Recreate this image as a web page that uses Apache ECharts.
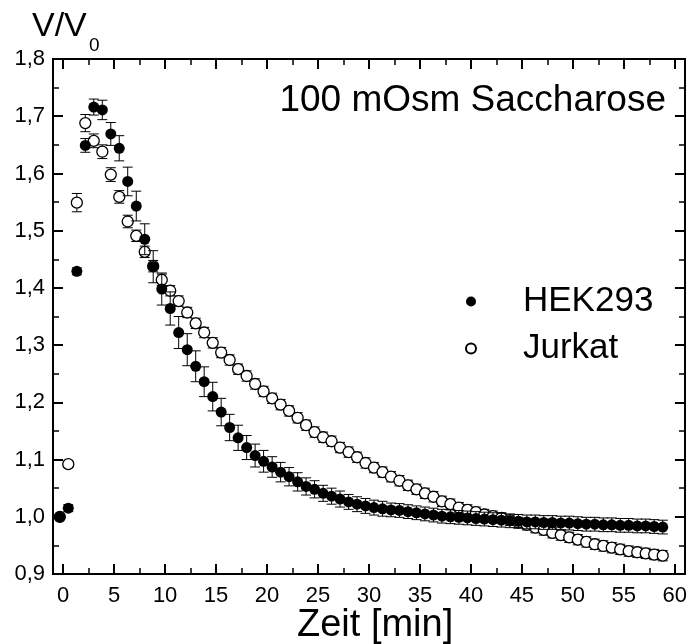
<!DOCTYPE html>
<html><head><meta charset="utf-8">
<script src="https://cdn.jsdelivr.net/npm/echarts@6/dist/echarts.min.js"></script>
<style>html,body{margin:0;padding:0;background:#fff}#c{width:690px;height:644px}</style>
</head><body><div id="c"></div><script>
const times = [-0.33,0.50,1.34,2.17,3.00,3.84,4.67,5.50,6.33,7.17,8.00,8.83,9.67,10.50,11.33,12.17,13.00,13.83,14.67,15.50,16.33,17.16,18.00,18.83,19.66,20.50,21.33,22.16,23.00,23.83,24.66,25.50,26.33,27.16,28.00,28.83,29.66,30.49,31.33,32.16,32.99,33.83,34.66,35.49,36.33,37.16,37.99,38.82,39.66,40.49,41.32,42.16,42.99,43.82,44.66,45.49,46.32,47.15,47.99,48.82,49.65,50.49,51.32,52.15,52.99,53.82,54.65,55.48,56.32,57.15,57.98,58.82];
const hek = [1.000,1.015,1.429,1.649,1.716,1.711,1.669,1.644,1.586,1.543,1.485,1.437,1.398,1.364,1.322,1.292,1.263,1.236,1.210,1.183,1.156,1.138,1.121,1.107,1.097,1.087,1.078,1.070,1.061,1.053,1.048,1.041,1.036,1.031,1.026,1.022,1.019,1.016,1.014,1.012,1.011,1.009,1.007,1.005,1.003,1.001,1.000,0.999,0.998,0.997,0.996,0.995,0.994,0.993,0.992,0.991,0.991,0.990,0.990,0.989,0.989,0.988,0.987,0.987,0.986,0.986,0.985,0.985,0.984,0.984,0.983,0.982];
const hekErr = [0.004,0.006,0.006,0.012,0.014,0.017,0.020,0.022,0.025,0.026,0.027,0.028,0.028,0.029,0.028,0.028,0.027,0.026,0.025,0.024,0.023,0.022,0.021,0.020,0.019,0.018,0.017,0.016,0.016,0.015,0.015,0.014,0.014,0.014,0.013,0.013,0.013,0.013,0.013,0.012,0.012,0.012,0.012,0.012,0.012,0.012,0.012,0.012,0.012,0.012,0.012,0.012,0.012,0.012,0.012,0.012,0.012,0.012,0.012,0.012,0.012,0.012,0.012,0.012,0.012,0.012,0.012,0.012,0.012,0.012,0.012,0.012];
const jurkat = [1.000,1.092,1.549,1.688,1.657,1.638,1.598,1.559,1.516,1.491,1.463,1.438,1.414,1.395,1.377,1.357,1.338,1.322,1.304,1.287,1.274,1.258,1.246,1.232,1.219,1.207,1.196,1.185,1.173,1.160,1.148,1.139,1.132,1.121,1.113,1.104,1.094,1.086,1.078,1.070,1.063,1.055,1.048,1.041,1.035,1.027,1.022,1.016,1.012,1.008,1.004,1.001,0.998,0.994,0.990,0.986,0.981,0.977,0.972,0.968,0.964,0.960,0.956,0.952,0.949,0.946,0.943,0.940,0.938,0.936,0.934,0.932];
const jurkatErr = [0.004,0.005,0.016,0.015,0.012,0.012,0.012,0.011,0.011,0.010,0.010,0.010,0.010,0.009,0.009,0.009,0.009,0.009,0.009,0.009,0.009,0.009,0.009,0.009,0.009,0.009,0.009,0.009,0.009,0.009,0.009,0.009,0.009,0.009,0.009,0.009,0.009,0.009,0.009,0.009,0.009,0.009,0.009,0.009,0.009,0.009,0.009,0.009,0.009,0.009,0.009,0.009,0.009,0.009,0.009,0.009,0.009,0.009,0.009,0.009,0.009,0.009,0.009,0.009,0.009,0.009,0.009,0.009,0.009,0.009,0.009,0.009];
const xMajor = [0,5,10,15,20,25,30,35,40,45,50,55,60];
const xMinor = [2.5,7.5,12.5,17.5,22.5,27.5,32.5,37.5,42.5,47.5,52.5,57.5];
const yMajor = [0.9,1.0,1.1,1.2,1.3,1.4,1.5,1.6,1.7,1.8];
const yMinor = [0.95,1.05,1.15,1.25,1.35,1.45,1.55,1.65,1.75];
const seriesNames = ['HEK293','Jurkat'];
const annotation = '100 mOsm Saccharose';
const xTitle = 'Zeit [min]';

const FF = '"Liberation Sans", Arial, sans-serif';
const chart = echarts.init(document.getElementById('c'), null, {renderer:'canvas'});

function xAx(pos, vals, len, labels) {
  return {type:'value', min:-1, max:61, position:pos, splitLine:{show:false},
    axisLine:{show:true, onZero:false, lineStyle:{color:'#000', width:2}},
    axisTick:{show:true, inside:true, length:len, customValues:vals, lineStyle:{color:'#000', width:len>8?2:1.5}},
    axisLabel:{show:labels, customValues:vals, color:'#000', fontSize:22, fontFamily:FF, margin:11}};
}
function yAx(pos, vals, len, labels) {
  return {type:'value', min:0.9, max:1.8, position:pos, splitLine:{show:false},
    axisLine:{show:true, onZero:false, lineStyle:{color:'#000', width:2}},
    axisTick:{show:true, inside:true, length:len, customValues:vals, lineStyle:{color:'#000', width:len>8?2:1.5}},
    axisLabel:{show:labels, customValues:vals, color:'#000', fontSize:22, fontFamily:FF, margin:8,
      formatter:v=>v.toFixed(1).replace('.', ',')}};
}
function errSeries(name, means, errs, z) {
  return {type:'custom', name:name, xAxisIndex:0, yAxisIndex:0, z:z, silent:true,
    data: times.map((t,i)=>[t, means[i]-errs[i], means[i]+errs[i]]),
    encode:{x:0, y:[1,2]},
    renderItem:function(params, api){
      const x = api.value(0), lo = api.value(1), hi = api.value(2);
      const p1 = api.coord([x, lo]), p2 = api.coord([x, hi]);
      const w = 5, st = {stroke:'#000', lineWidth:1};
      return {type:'group', children:[
        {type:'line', shape:{x1:p1[0], y1:p1[1], x2:p2[0], y2:p2[1]}, style:st},
        {type:'line', shape:{x1:p1[0]-w, y1:p1[1], x2:p1[0]+w, y2:p1[1]}, style:st},
        {type:'line', shape:{x1:p2[0]-w, y1:p2[1], x2:p2[0]+w, y2:p2[1]}, style:st}
      ]};
    }};
}

chart.setOption({
  animation:false,
  backgroundColor:'#fff',
  grid:{left:53, right:2, top:59, bottom:70, containLabel:false},
  xAxis:[xAx('bottom', xMajor, 10, true), xAx('bottom', xMinor, 6, false), xAx('top', xMajor, 10, false), xAx('top', xMinor, 6, false)],
  yAxis:[yAx('left', yMajor, 10, true), yAx('left', yMinor, 6, false), yAx('right', yMajor, 10, false), yAx('right', yMinor, 6, false)],
  legend:{data:seriesNames, orient:'vertical', left:460, top:279, itemGap:12, itemWidth:10, itemHeight:10,
    icon:'circle', textStyle:{fontSize:35, fontFamily:FF, color:'#000', padding:[0,0,0,42]}},
  graphic:[
    {type:'text', left:32, top:10, style:{text:'V/V', fontSize:34, fontFamily:FF, fill:'#000'}},
    {type:'text', left:89, top:36, style:{text:'0', fontSize:19, fontFamily:FF, fill:'#000'}},
    {type:'text', right:24, top:82, style:{text:annotation, fontSize:37, fontFamily:FF, fill:'#000'}},
    {type:'text', left:297, top:607, style:{text:xTitle, fontSize:38, fontFamily:FF, fill:'#000'}}
  ],
  series:[
    errSeries('Jurkat err', jurkat, jurkatErr, 2),
    {type:'scatter', name:seriesNames[1], z:3, symbol:'circle', symbolSize:11,
      data:times.map((t,i)=>[t, jurkat[i]]),
      itemStyle:{color:'#fff', borderColor:'#000', borderWidth:1.3, opacity:1}},
    errSeries('HEK err', hek, hekErr, 4),
    {type:'scatter', name:seriesNames[0], z:5, symbol:'circle', symbolSize:11,
      data:times.map((t,i)=>[t, hek[i]]),
      itemStyle:{color:'#000', opacity:1}}
  ]
});
</script></body></html>
